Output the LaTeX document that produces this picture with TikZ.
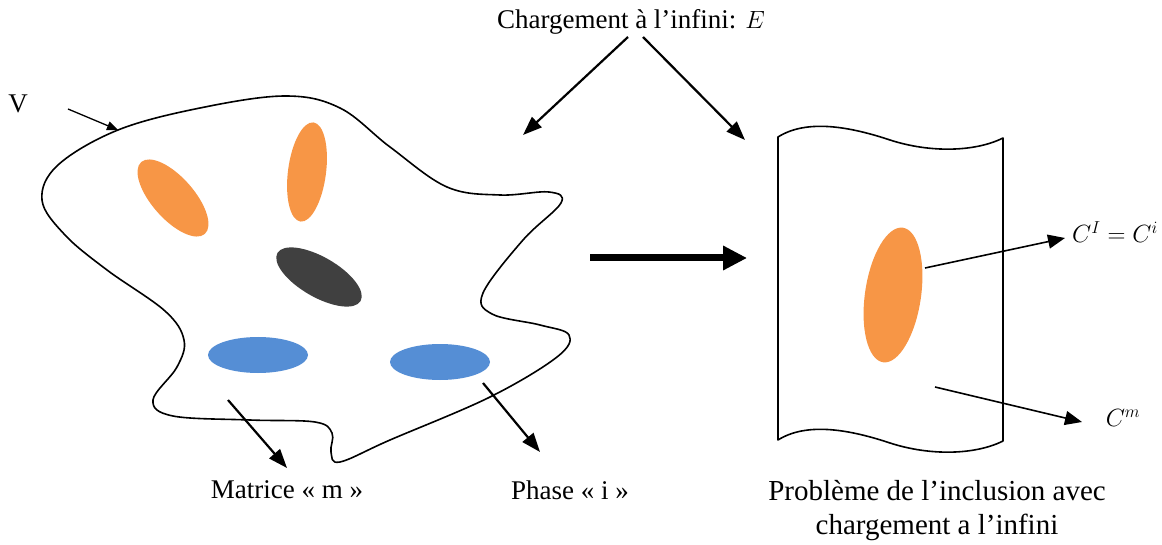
\documentclass[tikz,border=0pt]{standalone}
\usepackage{fontspec}
\setmainfont{Liberation Serif}
\usetikzlibrary{arrows.meta,shapes.geometric}
\definecolor{orng}{HTML}{F79646}
\definecolor{blu}{HTML}{558ED5}
\definecolor{drk}{HTML}{404040}
\tikzset{
  lbl/.style={font=\fontsize{27}{30}\selectfont, inner sep=0pt},
  incl/.style={ellipse, draw=none, inner sep=0pt},
  outline/.style={line width=1.6pt, line join=round},
  thinarrow/.style={line width=1.3pt, -{Triangle[length=11pt,width=9pt]}},
  midarrow/.style={line width=2.2pt, -{Triangle[length=19pt,width=14pt]}},
  labarrow/.style={line width=1.6pt, -{Triangle[length=17pt,width=14pt]}},
  bigarrow/.style={line width=7pt, -{Triangle[length=24pt,width=23pt]}}
}
\begin{document}
\begin{tikzpicture}[x=1pt,y=-1pt]
\useasboundingbox (0,0) rectangle (1162,545);

% body V
\draw[outline] plot[smooth cycle, tension=0.6] coordinates {
 (118,130) (200,108) (285,96) (340,108) (390,147) (447,187) (500,195) (549,192)
 (561,203) (523,240) (483,293) (492,314) (540,325) (569,335) (557,357) (490,397)
 (390,440) (340,462) (331,452) (332,433) (315,422) (250,420) (173,416) (153,400)
 (177,367) (184,340) (165,311) (107,270) (65,235) (42,200) (58,165)
};

% inclusions
\node[incl, fill=orng, minimum width=96pt, minimum height=42pt, rotate=-48.5] (o1) at (173,198) {};
\node[incl, fill=orng, minimum width=100pt, minimum height=38pt, rotate=82.5] (o2) at (307,172) {};
\node[incl, fill=drk, minimum width=96pt, minimum height=40pt, rotate=-30] (d1) at (319,277) {};
\node[incl, fill=blu, minimum width=100pt, minimum height=36pt] (b1) at (258,355) {};
\node[incl, fill=blu, minimum width=100pt, minimum height=36pt] (b2) at (440,362) {};

% right panel
\draw[outline] (778,137) .. controls (805,120) and (845,125) .. (890,140)
  .. controls (930,153) and (975,152) .. (1003,138)
  -- (1003,441)
  .. controls (975,455) and (930,456) .. (890,443)
  .. controls (845,428) and (805,423) .. (778,440) -- cycle;
\node[incl, fill=orng, minimum width=136pt, minimum height=56pt, rotate=81.6] (o3) at (893,295) {};

% labels
\node[lbl] (charg) at (631,22) {Chargement à l’infini: $E$};
\node[lbl] (V) at (18,104) {V};
\node[lbl] (mat) at (287,490) {Matrice « m »};
\node[lbl] (pha) at (570,490) {Phase « i »};
\node[lbl, align=center, font=\fontsize{29}{34}\selectfont] (prob) at (937,511) {Problème de l’inclusion avec\\chargement a l’infini};
\node[lbl] (ci) at (1115,232) {$C^I = C^i$};
\node[lbl] (cm) at (1123,418) {$C^m$};

% arrow end points
\coordinate (c1s) at (628,37);
\coordinate (c1e) at (523,135);
\coordinate (c2s) at (643,37);
\coordinate (c2e) at (745,140);
\coordinate (vs) at (68,109);
\coordinate (ve) at (118,130);
\coordinate (ms) at (228,400);
\coordinate (me) at (287,468);
\coordinate (ps) at (483,383);
\coordinate (pe) at (540,452);
\coordinate (bs) at (590,258);
\coordinate (be) at (747,258);
\coordinate (cis) at (925,268);
\coordinate (cie) at (1065,238);
\coordinate (cms) at (935,387);
\coordinate (cme) at (1082,422);

\draw[midarrow] (c1s) -- (c1e);
\draw[midarrow] (c2s) -- (c2e);
\draw[thinarrow] (vs) -- (ve);
\draw[midarrow] (ms) -- (me);
\draw[midarrow] (ps) -- (pe);
\draw[bigarrow, draw=black!35, fill=black!35, xshift=2pt, yshift=-3pt] (bs) -- (be);
\draw[bigarrow, draw=black, fill=black!80] (bs) -- (be);
\draw[labarrow] (cis) -- (cie);
\draw[labarrow] (cms) -- (cme);
\end{tikzpicture}
\end{document}
